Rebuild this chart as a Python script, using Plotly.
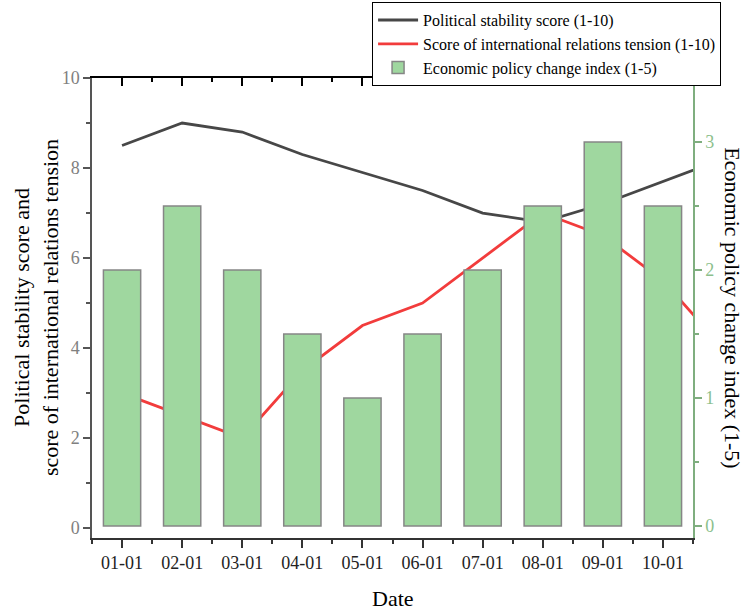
import plotly.graph_objects as go

# ---- data ----
dates = ["01-01", "02-01", "03-01", "04-01", "05-01",
         "06-01", "07-01", "08-01", "09-01", "10-01"]
# the two lines continue one step past 10-01 (clipped at the right axis)
stability = [8.5, 9.0, 8.8, 8.3, 7.9, 7.5, 7.0, 6.8, 7.2, 7.7, 8.2]
tension = [3.0, 2.5, 2.0, 3.5, 4.5, 5.0, 6.0, 7.0, 6.5, 5.5, 4.0]
policy = [2.0, 2.5, 2.0, 1.5, 1.0, 1.5, 2.0, 2.5, 3.0, 2.5]

bar_pos = list(range(len(dates)))
line_pos = list(range(len(stability)))

FONT = "Liberation Serif, Times New Roman, serif"

fig = go.Figure()
fig.add_trace(go.Scatter(
    x=line_pos, y=stability, mode="lines", name="Political stability score (1-10)",
    line=dict(color="#474747", width=2.8), xaxis="x", yaxis="y"))
fig.add_trace(go.Scatter(
    x=line_pos, y=tension, mode="lines", name="Score of international relations tension (1-10)",
    line=dict(color="#f23c3c", width=2.8), xaxis="x", yaxis="y"))
fig.add_trace(go.Bar(
    x=bar_pos, y=policy, name="Economic policy change index (1-5)", width=0.62,
    marker=dict(color="#9fd79f", line=dict(color="#868686", width=1.5)),
    xaxis="x2", yaxis="y2"))

fig.update_layout(
    width=747, height=611,
    margin=dict(l=92, r=54, t=78, b=73, autoexpand=False),
    paper_bgcolor="white", plot_bgcolor="white",
    font=dict(family=FONT, size=18, color="#222"),
    showlegend=True,
    legend=dict(x=0.466, y=1.165, xanchor="left", yanchor="top",
                bgcolor="white", bordercolor="black", borderwidth=1,
                font=dict(family=FONT, size=16, color="black"),
                itemwidth=40, tracegroupgap=0),
    xaxis=dict(
        range=[-0.5, 9.5], tickmode="array", tickvals=bar_pos, ticktext=dates,
        ticks="outside", ticklen=8, tickwidth=1.5, tickcolor="#333",
        showline=True, linecolor="#333", linewidth=1.5,
        showgrid=False, zeroline=False,
        tickfont=dict(family=FONT, size=18, color="#222"),
        minor=dict(tick0=0.5, dtick=1, ticks="outside", ticklen=4,
                   tickwidth=1.5, tickcolor="#333", showgrid=False),
    ),
    xaxis2=dict(
        overlaying="x", side="top", anchor="y2", matches="x",
        range=[-0.5, 9.5], tickmode="array", tickvals=bar_pos,
        showticklabels=False, ticks="inside", ticklen=8, tickwidth=1.5,
        tickcolor="black", showline=True, linecolor="black", linewidth=1.5,
        showgrid=False, zeroline=False,
        minor=dict(tick0=0.5, dtick=1, ticks="inside", ticklen=4,
                   tickwidth=1.5, tickcolor="black", showgrid=False),
    ),
    yaxis=dict(
        range=[-0.22, 10], tick0=0, dtick=2, ticks="outside", ticklen=7,
        tickwidth=1.5, tickcolor="#555", showline=True, linecolor="#555",
        linewidth=1.5, showgrid=False, zeroline=False,
        tickfont=dict(family=FONT, size=18, color="#808080"),
        minor=dict(tick0=1, dtick=2, ticks="outside", ticklen=4,
                   tickwidth=1.5, tickcolor="#555", showgrid=False),
    ),
    yaxis2=dict(
        overlaying="y", side="right", anchor="x2",
        range=[-0.094, 3.5], tick0=0, dtick=1, ticks="outside", ticklen=7,
        tickwidth=1.5, tickcolor="#7fae7f", showline=True, linecolor="#7fae7f",
        linewidth=1.5, showgrid=False, zeroline=False,
        tickfont=dict(family=FONT, size=18, color="#8cbf8c"),
        minor=dict(tick0=0.5, dtick=1, ticks="outside", ticklen=4,
                   tickwidth=1.5, tickcolor="#7fae7f", showgrid=False),
    ),
    annotations=[
        dict(text="Political stability score and<br>score of international relations tension",
             xref="paper", yref="paper", x=-0.093, y=0.5, xanchor="center",
             yanchor="middle", textangle=-90, showarrow=False,
             font=dict(family=FONT, size=22, color="black")),
        dict(text="Economic policy change index (1-5)",
             xref="paper", yref="paper", x=1.066, y=0.5, xanchor="center",
             yanchor="middle", textangle=90, showarrow=False,
             font=dict(family=FONT, size=22, color="black")),
        dict(text="Date", xref="paper", yref="paper", x=0.5, y=-0.132,
             xanchor="center", yanchor="middle", showarrow=False,
             font=dict(family=FONT, size=22, color="black")),
    ],
)

fig.write_html(
    "out.html",
    config={"displayModeBar": False},
    post_script="document.body.style.margin='0';document.body.style.padding='0';"
                "document.documentElement.style.overflow='hidden';",
)
